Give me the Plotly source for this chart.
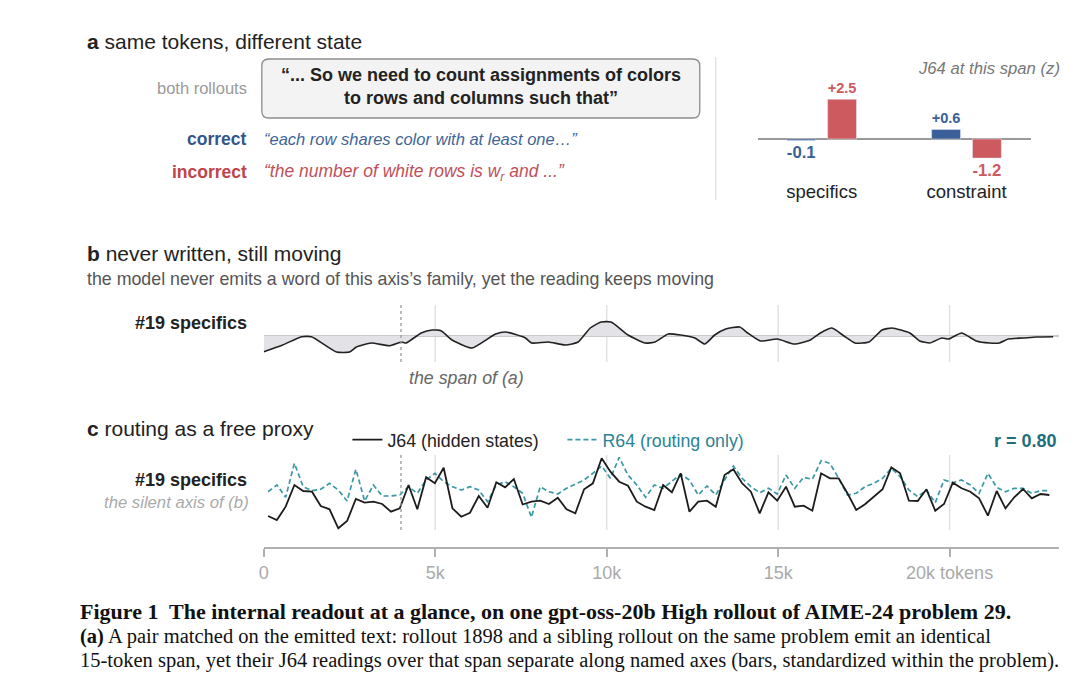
import numpy as np
import plotly.graph_objects as go

W, H = 1080, 675

# region Data
# panel a: J64 z-scores over the shared span
bar_axes = ["specifics", "constraint"]
bar_correct = [-0.1, 0.6]
bar_incorrect = [2.5, -1.2]

# panel b: #19 specifics reading along the rollout (tokens, z)
b_tokens = [0, 550, 1100, 1390, 2120, 2500, 2700, 3130, 3660, 4010,
            4150, 4590, 4910, 5170, 5490, 6070, 6760, 7050, 7630, 7810,
            8300, 8800, 9170, 9520, 9840, 10130, 10620, 11120, 11410, 11790,
            12160, 12570, 12860, 13150, 13470, 13880, 14110, 14480, 14980, 15470,
            15940, 16230, 16570, 16920, 17240, 17650, 18030, 18320, 18840, 19130,
            19420, 19770, 19970, 20350, 20780, 21160, 21450, 21710, 22150, 22530,
            23020]
b_specifics = [-1.57, -0.9, -0.07, -0.07, -1.6, -1.6, -1.1, -0.7, -0.97, -0.6,
               -0.7, 0.3, 0.6, 0.53, -0.4, -1.2, 0.2, 0.4, -0.2, -0.7,
               -0.6, -0.9, -0.6, 0.8, 1.4, 1.4, 0.1, -0.7, -0.6, 0.2,
               0.1, -0.2, -0.8, 0.1, 0.7, 0.9, 0.3, -0.5, -0.3, -0.8,
               -0.4, 0.3, 0.8, 0.0, -0.7, -0.6, 0.6, 0.8, 0.3, -0.5,
               -0.7, -0.2, -0.3, 0.3, -0.5, -0.7, -0.7, -0.3, -0.2, -0.1,
               -0.07]

# panel c: J64 vs R64 on the same axis, one reading per window
c_j64 = [-1.6, -2.0, -0.67, 1.5, 0.9, 0.83, -0.6, -0.93, -2.83, -2.1,
         0.1, -0.27, -0.17, -0.4, -1.17, -0.83, 1.5, -0.93, 2.27, 1.67,
         3.23, -0.83, -1.67, -1.27, 0.4, -0.77, 1.77, 1.27, 2.1, -0.45,
         -0.17, -0.07, -0.4, 0.23, -0.93, -1.33, 1.07, 1.67, 4.17, 2.83,
         1.83, 1.43, -0.17, -0.67, -1.0, 1.5, 0.77, 2.67, -1.17, -0.17,
         -0.07, -0.67, 2.5, 3.07, 1.67, 0.83, -1.33, 0.77, -0.07, 1.33,
         -0.67, -0.57, -1.07, 2.67, 2.17, 2.17, 0.67, -1.0, -0.43, 0.33,
         1.07, 3.27, 2.67, -0.07, -0.1, 1.07, -1.07, -0.4, 1.73, 1.17,
         0.83, 0.17, -1.57, 0.9, -0.83, 0.27, 1.1, 0.17, 0.6, 0.5]
c_r64 = [0.83, 1.5, 0.27, 3.67, 1.33, 0.93, 1.07, 1.67, 1.0, -0.1,
         3.07, -0.1, 1.5, 0.4, 0.4, 0.5, 1.33, 0.67, 2.0, 2.67,
         1.83, 1.33, 1.0, 1.33, 1.0, -0.17, 1.5, 1.83, 1.33, 0.67,
         -1.73, 1.33, 0.83, 0.6, 1.17, 1.57, 2.0, 2.67, 3.4, 2.17,
         4.27, 2.5, 1.5, 0.27, 1.5, 1.17, 1.83, 2.57, 2.0, 0.5,
         1.4, 0.5, 2.0, 3.4, 2.17, 1.33, 0.73, 1.17, 0.6, 2.5,
         1.17, 2.27, 2.07, 3.93, 3.67, 2.17, 0.5, 0.67, 1.33, 1.67,
         2.17, 3.17, 2.33, 1.0, 0.33, 1.0, -0.27, 2.0, 1.73, 2.0,
         1.5, 0.67, 2.67, 1.27, 0.83, 1.17, 1.17, 0.67, 0.93, 0.93]
c_first_token = 125
c_window = 256
c_tokens = c_first_token + c_window * np.arange(len(c_j64))
r_value = 0.80

span_token = 4000
tick_tokens = [0, 5000, 10000, 15000, 20000]
tick_text = ["0", "5k", "10k", "15k", "20k tokens"]
# endregion

BLUE = "#3b5f99"
RED = "#cc5a5f"
TEAL = "#3a98a7"
TEAL_TEXT = "#2a8494"
SANS = "Liberation Sans, Arial, sans-serif"
SERIF = "Liberation Serif, Times New Roman, serif"


def px(x):
    # the page lands a few px right of the reference, nudge everything back
    return (x - 4) / W


def py(y):
    return 1 - y / H


def note(x, y, text, size=18, color="#222", anchor="left", family=SANS):
    shift = {"left": -3, "right": 3}.get(anchor, 0)
    return dict(x=px(x), y=py(y), xref="paper", yref="paper", text=text,
                showarrow=False, xanchor=anchor, yanchor="middle", align=anchor,
                xshift=shift, font=dict(size=size, color=color, family=family))


def rounded_box(x0, y0, x1, y1, r):
    rx, ry = r / W, r / H
    a, b, c, d = px(x0), px(x1), py(y1), py(y0)
    return (f"M {a + rx},{c} L {b - rx},{c} Q {b},{c} {b},{c + ry} "
            f"L {b},{d - ry} Q {b},{d} {b - rx},{d} L {a + rx},{d} "
            f"Q {a},{d} {a},{d - ry} L {a},{c + ry} Q {a},{c} {a + rx},{c} Z")


fig = go.Figure()

# panel a bars
fig.add_trace(go.Bar(
    x=bar_axes, y=bar_correct, name="correct", marker_color=BLUE,
    text=[f"{v:+.1f}" for v in bar_correct], textposition="outside",
    textfont=dict(size=17, color=BLUE, family=SANS, weight="bold"),
    cliponaxis=False, showlegend=False, xaxis="x", yaxis="y",
))
fig.add_trace(go.Bar(
    x=bar_axes, y=bar_incorrect, name="incorrect", marker_color=RED,
    text=[f"{v:+.1f}" for v in bar_incorrect], textposition="outside",
    textfont=dict(size=17, color=RED, family=SANS, weight="bold"),
    cliponaxis=False, showlegend=False, xaxis="x", yaxis="y",
))

# panel b
fig.add_trace(go.Scatter(
    x=b_tokens, y=b_specifics, mode="lines", line=dict(color="#222", width=1.6, shape="spline", smoothing=0.5),
    fill="tozeroy", fillcolor="#e3e3e7", showlegend=False, xaxis="x2", yaxis="y2",
))

# panel c
fig.add_trace(go.Scatter(
    x=c_tokens, y=c_r64, mode="lines", name=f"<span style='color:{TEAL_TEXT}'>R64 (routing only)</span>",
    line=dict(color=TEAL, width=1.7, dash="5px,3px"), legendrank=2, xaxis="x3", yaxis="y3",
))
fig.add_trace(go.Scatter(
    x=c_tokens, y=c_j64, mode="lines", name="J64 (hidden states)",
    line=dict(color="#1c1c1c", width=1.8), legendrank=1, xaxis="x3", yaxis="y3",
))

shapes = []
for t in tick_tokens[1:]:
    for xr, yr in [("x2", "y2 domain"), ("x3", "y3 domain")]:
        shapes.append(dict(type="line", xref=xr, yref=yr, x0=t, x1=t, y0=0, y1=1,
                           line=dict(color="#e2e2e2", width=1.5), layer="below"))
for xr, yr in [("x2", "y2 domain"), ("x3", "y3 domain")]:
    shapes.append(dict(type="line", xref=xr, yref=yr, x0=span_token, x1=span_token, y0=0, y1=1,
                       line=dict(color="#9a9a9a", width=1.3, dash="3px,3px")))
shapes.append(dict(type="line", xref="paper", yref="paper", x0=px(718), x1=px(718), y0=py(200), y1=py(57),
                   line=dict(color="#e3e3e3", width=1.5)))
shapes.append(dict(type="path", xref="paper", yref="paper", path=rounded_box(262, 59, 702, 118, 7),
                   fillcolor="#f3f3f3", line=dict(color="#8c8c8c", width=1.3), layer="below"))

annotations = [
    note(87, 41, "<b>a</b> same tokens, different state", 21),
    note(246, 88, "both rollouts", 16.5, "#9a9a9a", "right"),
    note(482, 87, "<b>“... So we need to count assignments of colors<br>to rows and columns such that”</b>", 18,
         anchor="center"),
    note(246, 139, "<b>correct</b>", 17.5, "#34568b", "right"),
    note(265, 139, "<i>“each row shares color with at least one…”</i>", 16.5, "#3f6597"),
    note(246, 172, "<b>incorrect</b>", 17.5, "#c0444b", "right"),
    note(265, 172, "<i>“the number of white rows is w<sub>r</sub> and ...”</i>", 17.5, "#bf5059"),
    note(1063, 68, "<i>J64 at this span (z)</i>", 16.7, "#777", "right"),
    note(87, 253, "<b>b</b> never written, still moving", 21),
    note(87, 279, "the model never emits a word of this axis’s family, yet the reading keeps moving", 17.8, "#555"),
    note(246, 323, "<b>#19 specifics</b>", 18, "#222", "right"),
    note(468, 378, "<i>the span of (a)</i>", 17.8, "#666", "center"),
    note(87, 428, "<b>c</b> routing as a free proxy", 21),
    note(246, 480, "<b>#19 specifics</b>", 18, "#222", "right"),
    note(248, 502, "<i>the silent axis of (b)</i>", 16.7, "#aaa", "right"),
    note(1060, 441, f"<b>r = {r_value:.2f}</b>", 18, "#1f6e7e", "right"),
    note(80, 611, "<b>Figure 1  The internal readout at a glance, on one gpt-oss-20b High rollout of AIME-24 problem 29.</b>",
         22, "#111", family=SERIF),
    note(80, 636, "<b>(a)</b> A pair matched on the emitted text: rollout 1898 and a sibling rollout on the same problem emit an identical",
         20.5, "#111", family=SERIF),
    note(80, 660, "15-token span, yet their J64 readings over that span separate along named axes (bars, standardized within the problem).",
         20.5, "#111", family=SERIF),
]

x_range = [0, (1063 - 264) / 34.45 * 1000]
hidden = dict(showgrid=False, zeroline=False, showticklabels=False, ticks="", showline=False)

fig.update_layout(
    width=W, height=H,
    margin=dict(l=0, r=0, t=0, b=0),
    paper_bgcolor="white", plot_bgcolor="rgba(0,0,0,0)",
    font=dict(family=SANS, color="#222"),
    barmode="group", bargap=0.436, bargroupgap=0.293,
    xaxis=dict(domain=[px(760), px(1035)], anchor="y", range=[-0.443, 1.447],
               showgrid=False, zeroline=False, showline=False,
               ticks="", tickfont=dict(size=18.5, color="#222"), ticklabelstandoff=8),
    yaxis=dict(domain=[py(170.8), py(91.3)], anchor="x", range=[-2, 3], showgrid=False, showticklabels=False,
               zeroline=True, zerolinecolor="#999", zerolinewidth=1.5),
    xaxis2=dict(domain=[px(264), px(1063)], anchor="y2", range=x_range, **hidden),
    yaxis2=dict(domain=[py(362), py(305)], anchor="x2", range=[-2.6, 3.1], showgrid=False, showticklabels=False,
                zeroline=True, zerolinecolor="#cacaca", zerolinewidth=1.5),
    xaxis3=dict(domain=[px(264), px(1063)], anchor="free", position=py(548), range=x_range,
                showgrid=False, zeroline=False, showline=True, linecolor="#b0b0b0", linewidth=2,
                ticks="outside", ticklen=8, tickwidth=2, tickcolor="#b0b0b0",
                tickvals=tick_tokens, ticktext=tick_text, tickfont=dict(size=18, color="#aaa")),
    yaxis3=dict(domain=[py(530), py(455)], anchor="x3", range=[-3.0, 4.5], **hidden),
    legend=dict(orientation="h", x=px(348), xanchor="left", y=py(440), yanchor="middle",
                font=dict(size=17.8, color="#222"), bgcolor="rgba(0,0,0,0)", traceorder="normal",
                entrywidth=170, entrywidthmode="pixels"),
    shapes=shapes,
    annotations=annotations,
    hovermode=False,
)

fig.write_html("out.html", config={"displayModeBar": False},
               post_script="document.body.style.margin='0';")
